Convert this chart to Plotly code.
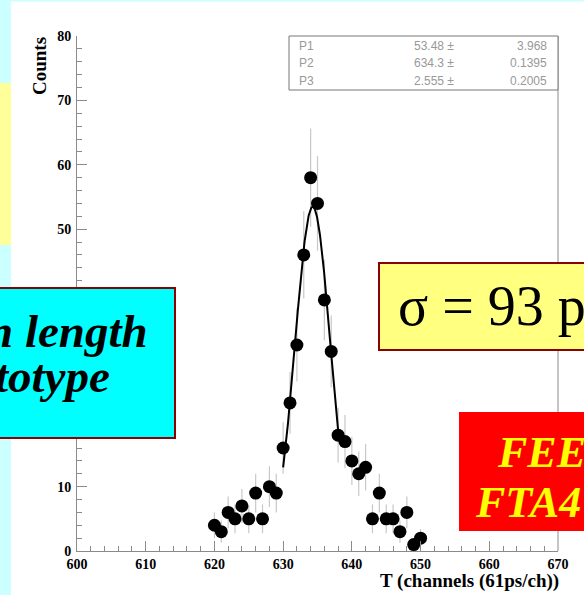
import numpy as np
import plotly.graph_objects as go

# Time spectrum (counts per TDC channel)
channels = list(range(620, 651))
counts = [4, 3, 6, 5, 7, 5, 9, 5, 10, 9, 16, 23, 32, 46, 58, 54, 39, 31,
          18, 17, 14, 12, 13, 5, 9, 5, 5, 3, 6, 1, 2]

# Gaussian fit result
par_names = ["P1", "P2", "P3"]
par_values = ["53.48", "634.3", "2.555"]
par_errors = ["3.968", "0.1395", "0.2005"]
fit_const, fit_mean, fit_sigma = 53.48, 634.3, 2.555
fit_lo, fit_hi = 630, 638

x_ticks = [600, 610, 620, 630, 640, 650, 660, 670]
y_ticks = [0, 10, 20, 30, 40, 50, 60, 70, 80]

W, H = 584, 595
L, R, T, B = 77, 26, 36, 44
PW, PH = W - L - R, H - T - B


def px(x):
    return (x - L) / PW


def py(y):
    return (H - B - y) / PH


serif = "Liberation Serif"
sans = "Liberation Sans"

errs = [np.sqrt(c) for c in counts]
xf = np.linspace(fit_lo, fit_hi, 200)
yf = fit_const * np.exp(-0.5 * ((xf - fit_mean) / fit_sigma) ** 2)

fig = go.Figure()
fig.add_trace(go.Scatter(
    x=channels, y=counts, mode="markers",
    marker=dict(color="black", size=13),
    error_y=dict(type="data", array=errs, visible=True, color="#c8c8c8",
                 thickness=1.2, width=0),
    cliponaxis=False, showlegend=False))
fig.add_trace(go.Scatter(
    x=xf, y=yf, mode="lines", line=dict(color="black", width=2),
    showlegend=False))

axis_common = dict(
    showgrid=False, zeroline=False, showline=True, linecolor="#8a8a8a",
    linewidth=1, ticks="inside", ticklen=10, tickcolor="#8a8a8a",
    tickwidth=1,
    tickfont=dict(family=serif, size=14, color="black", weight="bold"),
    minor=dict(dtick=2, ticks="inside", ticklen=5, tickcolor="#8a8a8a",
               showgrid=False),
)

fig.update_layout(
    width=W, height=H,
    margin=dict(l=L, r=R, t=T, b=B, pad=0),
    paper_bgcolor="white", plot_bgcolor="white",
    xaxis=dict(range=[600, 670], tickvals=x_ticks, **axis_common),
    yaxis=dict(range=[0, 80], tickvals=y_ticks, ticklabelstandoff=2,
               **axis_common),
)

shapes = []
# slide background strips
shapes.append(dict(type="rect", xref="paper", yref="paper", x0=px(0), x1=px(11),
                   y0=py(0), y1=py(H), fillcolor="#ccffff", line_width=0,
                   layer="below"))
shapes.append(dict(type="rect", xref="paper", yref="paper", x0=px(0), x1=px(11),
                   y0=py(83), y1=py(245), fillcolor="#ffff99", line_width=0,
                   layer="below"))
shapes.append(dict(type="rect", xref="paper", yref="paper", x0=px(0), x1=px(W),
                   y0=py(0), y1=py(1.5), fillcolor="#ccffff", line_width=0,
                   layer="below"))
# right frame line
shapes.append(dict(type="line", xref="paper", yref="paper", x0=1, x1=1,
                   y0=0, y1=1, line=dict(color="#8a8a8a", width=1)))
# fit statistics box
shapes.append(dict(type="rect", xref="paper", yref="paper", x0=px(289), x1=1,
                   y0=py(90), y1=1, fillcolor="white",
                   line=dict(color="#777777", width=1), layer="above"))
# text boxes
shapes.append(dict(type="rect", xref="paper", yref="paper", x0=px(-5), x1=px(175),
                   y0=py(438), y1=py(288), fillcolor="#00ffff",
                   line=dict(color="#8b0000", width=2), layer="above"))
shapes.append(dict(type="rect", xref="paper", yref="paper", x0=px(379), x1=px(W + 5),
                   y0=py(350), y1=py(263), fillcolor="#ffff80",
                   line=dict(color="#8b0000", width=2), layer="above"))
shapes.append(dict(type="rect", xref="paper", yref="paper", x0=px(459), x1=px(W + 5),
                   y0=py(531), y1=py(412), fillcolor="#ff0000",
                   line_width=0, layer="above"))
fig.update_layout(shapes=shapes)

ann = []
# axis titles
ann.append(dict(text="Counts", xref="paper", yref="paper", x=px(40), y=py(35),
                xanchor="center", yanchor="top", textangle=-90, showarrow=False,
                font=dict(family=serif, size=19, color="black", weight="bold")))
ann.append(dict(text="T (channels (61ps/ch))", xref="paper", yref="paper",
                x=px(378), y=py(581), xanchor="left", yanchor="middle",
                showarrow=False,
                font=dict(family=serif, size=19, color="black", weight="bold")))
# fit parameters
for i, (n, v, e) in enumerate(zip(par_names, par_values, par_errors)):
    yc = py(46 + 17.5 * i)
    f = dict(family=sans, size=12, color="#999999")
    ann.append(dict(text=n, xref="paper", yref="paper", x=px(297), y=yc,
                    xanchor="left", yanchor="middle", showarrow=False, font=f))
    ann.append(dict(text=v + " ±", xref="paper", yref="paper", x=px(456), y=yc,
                    xanchor="right", yanchor="middle", showarrow=False, font=f))
    ann.append(dict(text=e, xref="paper", yref="paper", x=px(549), y=yc,
                    xanchor="right", yanchor="middle", showarrow=False, font=f))
# cyan box text
bi = dict(family=serif, size=47, color="black", weight="bold", style="italic")
ann.append(dict(text="n length", xref="paper", yref="paper", x=px(-15), y=py(331),
                xanchor="left", yanchor="middle", showarrow=False, font=bi))
ann.append(dict(text="totype", xref="paper", yref="paper", x=px(-7), y=py(376),
                xanchor="left", yanchor="middle", showarrow=False, font=bi))
# sigma box text
ann.append(dict(text="σ = 93 ps", xref="paper", yref="paper", x=px(396), y=py(306),
                xanchor="left", yanchor="middle", showarrow=False,
                font=dict(family=serif, size=56, color="black")))
# front-end electronics text
yi = dict(family=serif, size=44, color="#ffff00", weight="bold", style="italic")
ann.append(dict(text="FEE", xref="paper", yref="paper", x=px(495), y=py(452),
                xanchor="left", yanchor="middle", showarrow=False, font=yi))
ann.append(dict(text="FTA4", xref="paper", yref="paper", x=px(473), y=py(502),
                xanchor="left", yanchor="middle", showarrow=False, font=yi))
fig.update_layout(annotations=ann)

fig.write_html("out.html")
